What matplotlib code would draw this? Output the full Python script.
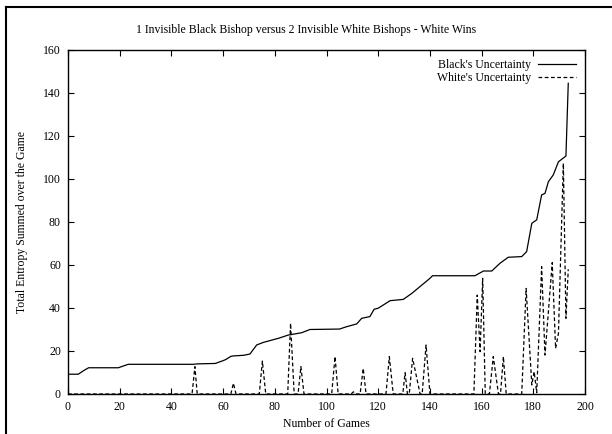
import numpy as np
import matplotlib.pyplot as plt
from matplotlib.lines import Line2D

plt.rcParams['font.family'] = ['Liberation Serif', 'DejaVu Serif']
plt.rcParams['font.size'] = 8.5

# Black's uncertainty (breakpoints: game, entropy)
black_x = [0, 4, 6, 8, 19.5, 21.4, 23.3, 48.5, 50, 57, 60, 61, 63, 64, 68,
           70.4, 73, 75.6, 81.4, 85.2, 90.4, 93.6, 105, 107.8, 111.7, 113.6,
           116.8, 118.4, 120, 124.6, 129.7, 133, 136.2, 140, 141, 157.4,
           160.7, 163.9, 167.1, 170.3, 175.5, 177.4, 179.4, 181.3, 183.2,
           184.5, 185.8, 187.7, 189.7, 192.6, 193.5]
black_y = [9.2, 9.2, 10.8, 12.2, 12.2, 13, 13.8, 13.8, 14, 14.2, 15.5, 16, 17.5,
           17.7, 18, 18.6, 22.8, 24, 25.9, 27.4, 28.5, 30, 30.2, 31.3, 32.6, 35.2,
           36, 39.4, 39.9, 43.4, 44, 46.8, 50, 53.8, 55, 55,
           57.2, 57.2, 60.8, 63.6, 63.9, 66.2, 79.4, 81, 92.6,
           93.3, 98.7, 101.9, 108, 110.7, 144.5]

# White's uncertainty (breakpoints: game, entropy)
white_x = [0, 48, 49.1, 50, 63, 64, 65, 74, 75.2, 76.5, 85, 86.1, 87.5, 89,
           90.1, 91.3, 102, 103.3, 104.5, 109.5, 110.4, 111.3, 113, 114.2,
           115.3, 123, 124.3, 125.8, 129.5, 130.4, 131.3, 132, 133.3, 136.2,
           137, 138.5, 140, 157, 158.3, 159.4, 160.4, 161.4, 163, 164.5, 166.5,
           167.3, 168.4, 169.5, 175.5, 177.2, 179.4, 180.3, 181.3, 183.2, 184.5,
           187.3, 188.6, 189.7, 191.6, 192.6, 193.5]
white_y = [0, 0, 12.7, 0, 0, 5, 0, 0, 15.3, 0, 0, 32.9, 0, 0,
           12.7, 0, 0, 17.4, 0, 0, 1, 0, 0, 11.9,
           0, 0, 17.4, 0, 0, 9.9, 0, 0, 16.6, 0,
           0, 22.8, 0, 0, 46, 19.7, 53.8, 0, 0, 17.4, 0,
           0, 17.4, 0, 0, 49.1, 4.2, 10.4, 0.6, 59.2, 18.1,
           61.1, 21.2, 28.2, 107.3, 35.2, 58]

fig = plt.figure(figsize=(6.12, 4.34), dpi=100)
ax = fig.add_axes([0.111, 0.0922, 0.845, 0.7926])

ax.plot(black_x, black_y, '-', color='black', lw=0.9, label="Black's Uncertainty")
ax.plot(white_x, white_y, color='black', lw=0.9, linestyle=(0, (3, 2)),
        label="White's Uncertainty")

ax.set_xlim(0, 200)
ax.set_ylim(0, 160)
ax.set_xticks(np.arange(0, 201, 20))
ax.set_yticks(np.arange(0, 161, 20))
ax.tick_params(direction='in', length=4, width=0.8, top=True, right=True,
               labeltop=False, labelright=False, pad=5)
for s in ax.spines.values():
    s.set_linewidth(1.0)

# title is centred on the page, not the axes
fig.text(0.5, 0.93, '1 Invisible Black Bishop versus 2 Invisible White Bishops - White Wins',
         ha='center', va='center', fontsize=8.5)
ax.set_xlabel('Number of Games', labelpad=4)
ax.set_ylabel('Total Entropy Summed over the Game', labelpad=11)

ax.legend(loc='upper right', frameon=False, markerfirst=False,
          handlelength=3.2, borderaxespad=0.4, labelspacing=0.05, handletextpad=0.6)

# outer page frame
fig.add_artist(Line2D([0.010, 0.010], [0.0, 0.984], transform=fig.transFigure,
                      color='black', lw=1.5))
fig.add_artist(Line2D([0.010, 1.0], [0.984, 0.984], transform=fig.transFigure,
                      color='black', lw=1.5))

fig.savefig('out.png', dpi=100)
